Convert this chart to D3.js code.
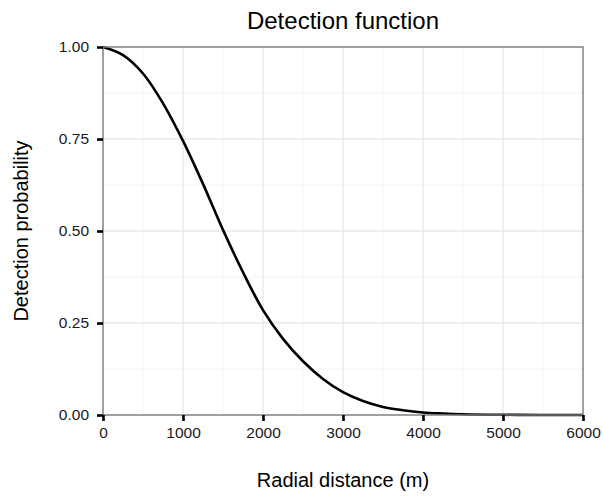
<!DOCTYPE html>
<html><head><meta charset="utf-8">
<script src="https://cdn.jsdelivr.net/npm/d3@7"></script>
<style>body{margin:0;background:#fff}svg{display:block}text{font-family:"Liberation Sans",Arial,Helvetica,sans-serif}</style>
</head><body>
<script>
// Data
const distance = [0,250,500,750,1000,1250,1500,1750,2000,2250,2500,2750,3000,3250,3500,3750,4000,4250,4500,5000,5500,6000];
const probability = [1.0,0.978,0.928,0.847,0.745,0.628,0.503,0.388,0.285,0.207,0.146,0.098,0.062,0.038,0.022,0.013,0.007,0.004,0.002,0.0006,0.0001,0.0];
const xTicks = [0,1000,2000,3000,4000,5000,6000];
const yTicks = [0,0.25,0.5,0.75,1.0];
const xMinor = [500,1500,2500,3500,4500,5500];
const yMinor = [0.125,0.375,0.625,0.875];
const titleText = "Detection function";
const xLabel = "Radial distance (m)";
const yLabel = "Detection probability";

const W=603,H=497;
const m={l:103,r:20,t:47,b:82};
const svg=d3.select("body").append("svg").attr("width",W).attr("height",H);
const x=d3.scaleLinear().domain([0,6000]).range([m.l,W-m.r]);
const y=d3.scaleLinear().domain([0,1]).range([H-m.b,m.t]);

const g=svg.append("g");
// minor grid
g.selectAll(".vx").data(xMinor).join("line").attr("x1",d=>x(d)).attr("x2",d=>x(d)).attr("y1",y(0)).attr("y2",y(1)).attr("stroke","#f4f4f4").attr("stroke-width",1);
g.selectAll(".vy").data(yMinor).join("line").attr("y1",d=>y(d)).attr("y2",d=>y(d)).attr("x1",x(0)).attr("x2",x(6000)).attr("stroke","#f4f4f4").attr("stroke-width",1);
// major grid
g.selectAll(".mx").data(xTicks).join("line").attr("x1",d=>x(d)).attr("x2",d=>x(d)).attr("y1",y(0)).attr("y2",y(1)).attr("stroke","#e8e8e8").attr("stroke-width",1.3);
g.selectAll(".my").data(yTicks).join("line").attr("y1",d=>y(d)).attr("y2",d=>y(d)).attr("x1",x(0)).attr("x2",x(6000)).attr("stroke","#e8e8e8").attr("stroke-width",1.3);

// curve
const line=d3.line().x((d,i)=>x(distance[i])).y(d=>y(d)).curve(d3.curveCatmullRom.alpha(0.5));
svg.append("path").datum(probability).attr("d",line).attr("fill","none").attr("stroke","#000").attr("stroke-width",2.6);

// panel border
svg.append("rect").attr("x",x(0)).attr("y",y(1)).attr("width",x(6000)-x(0)).attr("height",y(0)-y(1)).attr("fill","none").attr("stroke","#7f7f7f").attr("stroke-width",1.4);

// axes
const xa=svg.append("g").attr("transform",`translate(0,${y(0)})`).call(d3.axisBottom(x).tickValues(xTicks).tickSize(6).tickPadding(6).tickFormat(d3.format("d")));
const ya=svg.append("g").attr("transform",`translate(${x(0)},0)`).call(d3.axisLeft(y).tickValues(yTicks).tickSize(6).tickPadding(8).tickFormat(d3.format(".2f")));
[xa,ya].forEach(a=>{
  a.select(".domain").remove();
  a.selectAll(".tick line").attr("stroke","#000").attr("stroke-width",2.6);
  a.selectAll(".tick text").attr("fill","#1a1a1a").style("font-size","15.5px").style("font-family",'"Liberation Sans",Arial,sans-serif');
});

svg.append("text").attr("x",(x(0)+x(6000))/2).attr("y",29).attr("text-anchor","middle").style("font-size","24px").attr("fill","#000").text(titleText);
svg.append("text").attr("x",(x(0)+x(6000))/2).attr("y",487).attr("text-anchor","middle").style("font-size","20px").attr("fill","#000").text(xLabel);
svg.append("text").attr("transform",`translate(28,${(y(0)+y(1))/2}) rotate(-90)`).attr("text-anchor","middle").style("font-size","20px").attr("fill","#000").text(yLabel);
</script>
</body></html>
